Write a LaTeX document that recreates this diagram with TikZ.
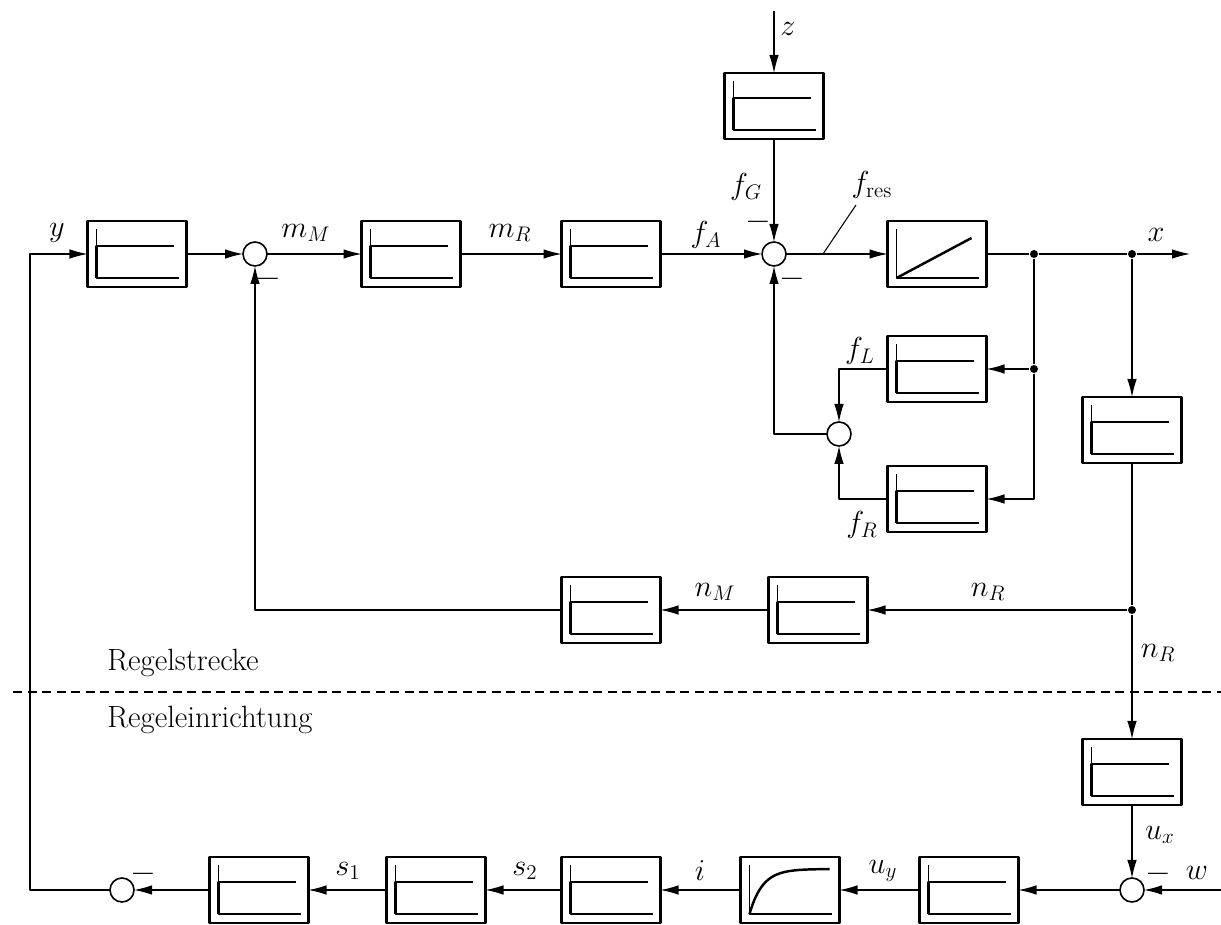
\documentclass[tikz,border=0pt]{standalone}
\usetikzlibrary{arrows.meta,calc}
% Sprungantwort im Block
\newcommand\stepin[1]{%
	\draw[axis] ($(#1.north west)+(9,-8)$) |- ($(#1.south west)+(91,9)$);
	\draw[curve] ($(#1.south west)+(9,9)$) |- ($(#1.north west)+(86,-25)$);}
\newcommand\rampin[1]{%
	\draw[axis] ($(#1.north west)+(9,-8)$) |- ($(#1.south west)+(91,9)$);
	\draw[curve] ($(#1.south west)+(9,9)$) -- ($(#1.north west)+(84,-17)$);}
\newcommand\expin[1]{%
	\draw[axis] ($(#1.north west)+(9,-8)$) |- ($(#1.south west)+(91,9)$);
	\draw[curve,shift={($(#1.south west)+(9,9)$)}] plot[smooth,domain=0:80,samples=40] (\x,{45*(1-exp(-\x/13))});}
\begin{document}
\begin{tikzpicture}[x=0.2mm,y=0.2mm,>={Latex[length=3.6mm,width=1.9mm]},
	font=\fontsize{17.5}{21}\selectfont, line join=round,
	every path/.style={line width=0.6pt},
	blk/.style={draw,line width=1.5pt,minimum width=19.8mm,minimum height=13.2mm,outer sep=0pt,inner sep=0pt},
	sum/.style={draw,circle,line width=0.9pt,minimum size=4.8mm,inner sep=0pt,outer sep=0pt},
	axis/.style={line width=0.6pt},
	curve/.style={line width=1.4pt},
	dot/.style={circle,fill,inner sep=0pt,minimum size=1.6mm},
	lbl/.style={inner sep=1pt},
	sgn/.style={inner sep=0pt,font=\fontsize{20}{24}\selectfont\bfseries}]
	\useasboundingbox (0,0) rectangle (1221,925);
	\def\ytop{671} \def\ymid{315} \def\ybot{35}
	% Regelstrecke, obere Zeile
	\node[blk] (b1) at (137,\ytop) {}; \stepin{b1}
	\node[sum] (s1) at (255,\ytop) {};
	\node[blk] (b2) at (411,\ytop) {}; \stepin{b2}
	\node[blk] (b3) at (611,\ytop) {}; \stepin{b3}
	\node[sum] (s2) at (774,\ytop) {};
	\node[blk] (bramp) at (937,\ytop) {}; \rampin{bramp}
	\node[dot] (d1) at (1034,\ytop) {};
	\node[dot] (d2) at (1132,\ytop) {};
	\coordinate (xout) at (1190,\ytop);
	\node[blk] (bz) at (774,819) {}; \stepin{bz}
	\coordinate (zin) at (774,914);
	% Rueckfuehrung f_L, f_R
	\node[blk] (bfl) at (937,556) {}; \stepin{bfl}
	\node[blk] (bfr) at (937,426) {}; \stepin{bfr}
	\node[dot] (d3) at (1034,556) {};
	\node[sum] (s3) at (839,491) {};
	% rechte Spalte
	\node[blk] (bq) at (1132,495) {}; \stepin{bq}
	\node[dot] (d4) at (1132,\ymid) {};
	\node[blk] (bn2) at (818,\ymid) {}; \stepin{bn2}
	\node[blk] (bn1) at (611,\ymid) {}; \stepin{bn1}
	\node[blk] (bu) at (1132,153) {}; \stepin{bu}
	% Regeleinrichtung, untere Zeile
	\node[sum] (s4) at (1132,\ybot) {};
	\coordinate (win) at (1221,\ybot);
	\node[blk] (bb5) at (969,\ybot) {}; \stepin{bb5}
	\node[blk] (bb4) at (790,\ybot) {}; \expin{bb4}
	\node[blk] (bb3) at (611,\ybot) {}; \stepin{bb3}
	\node[blk] (bb2) at (436,\ybot) {}; \stepin{bb2}
	\node[blk] (bb1) at (259,\ybot) {}; \stepin{bb1}
	\node[sum] (s5) at (122,\ybot) {};
	\coordinate (lc) at (30,\ytop);
	% Verbindungen
	\draw[->] (s5.west) -| (lc) -- (b1.west);
	\draw[->] (b1) -- (s1);
	\draw[->] (s1) -- (b2);
	\draw[->] (b2) -- (b3);
	\draw[->] (b3) -- (s2);
	\draw[->] (s2) -- (bramp);
	\draw (bramp) -- (d1) -- (d2);
	\draw[->] (d2) -- (xout);
	\draw[->] (zin) -- (bz.north);
	\draw[->] (bz) -- (s2);
	\draw (d1) -- (d3);
	\draw[->] (d3) -- (bfl.east);
	\draw[->] (d3) |- (bfr.east);
	\draw[->] (bfl.west) -| (s3.north);
	\draw[->] (bfr.west) -| (s3.south);
	\draw[->] (s3.west) -| (s2.south);
	\draw[->] (d2) -- (bq.north);
	\draw (bq) -- (d4);
	\draw[->] (d4) -- (bn2.east);
	\draw[->] (bn2) -- (bn1);
	\draw[->] (bn1.west) -| (s1.south);
	\draw[->] (d4) -- (bu.north);
	\draw[->] (bu) -- (s4);
	\draw[->] (win) -- (s4.east);
	\draw[->] (s4) -- (bb5);
	\draw[->] (bb5) -- (bb4);
	\draw[->] (bb4) -- (bb3);
	\draw[->] (bb3) -- (bb2);
	\draw[->] (bb2) -- (bb1);
	\draw[->] (bb1) -- (s5);
	\coordinate (tick1) at (823,\ytop);
	\coordinate (tick2) at (856,720);
	\draw (tick1) -- (tick2);
	% Beschriftungen
	\node[lbl] (ly) at (57,692) {$y$};
	\node[lbl] (lmM) at (306,692) {$m_M$};
	\node[lbl] (lmR) at (510,692) {$m_R$};
	\node[lbl] (lfA) at (706,690) {$f_A$};
	\node[lbl] (lfG) at (746,738) {$f_G$};
	\node[lbl] (lz) at (788,896) {$z$};
	\node[lbl] (lfres) at (872,740) {$f_{\mathrm{res}}$};
	\node[lbl] (lx) at (1156,690) {$x$};
	\node[lbl] (lfL) at (860,574) {$f_L$};
	\node[lbl] (lfR) at (862,400) {$f_R$};
	\node[lbl] (lnM) at (715,333) {$n_M$};
	\node[lbl] (lnR) at (988,333) {$n_R$};
	\node[lbl] (lnR2) at (1158,272) {$n_R$};
	\node[lbl] (lux) at (1160,90) {$u_x$};
	\node[lbl] (lw) at (1197,52) {$w$};
	\node[lbl] (luy) at (883,54) {$u_y$};
	\node[lbl] (li) at (700,54) {$i$};
	\node[lbl] (ls2) at (525,54) {$s_2$};
	\node[lbl] (ls1) at (348,54) {$s_1$};
	% Vorzeichen
	\node[sgn] (m1) at (268,642) {\textendash};
	\node[sgn] (m2) at (758,699) {\textendash};
	\node[sgn] (m3) at (792,642) {\textendash};
	\node[sgn] (m4) at (1158,47) {\textendash};
	\node[sgn] (m5) at (143,47) {\textendash};
	% Trennlinie
	\draw[dash pattern=on 1.8mm off 1.1mm] (13,233) -- (1221,233);
	\node[lbl,anchor=west] (tstr) at (105,262) {Regelstrecke};
	\node[lbl,anchor=west] (tein) at (105,205) {Regeleinrichtung};
\end{tikzpicture}
\end{document}
